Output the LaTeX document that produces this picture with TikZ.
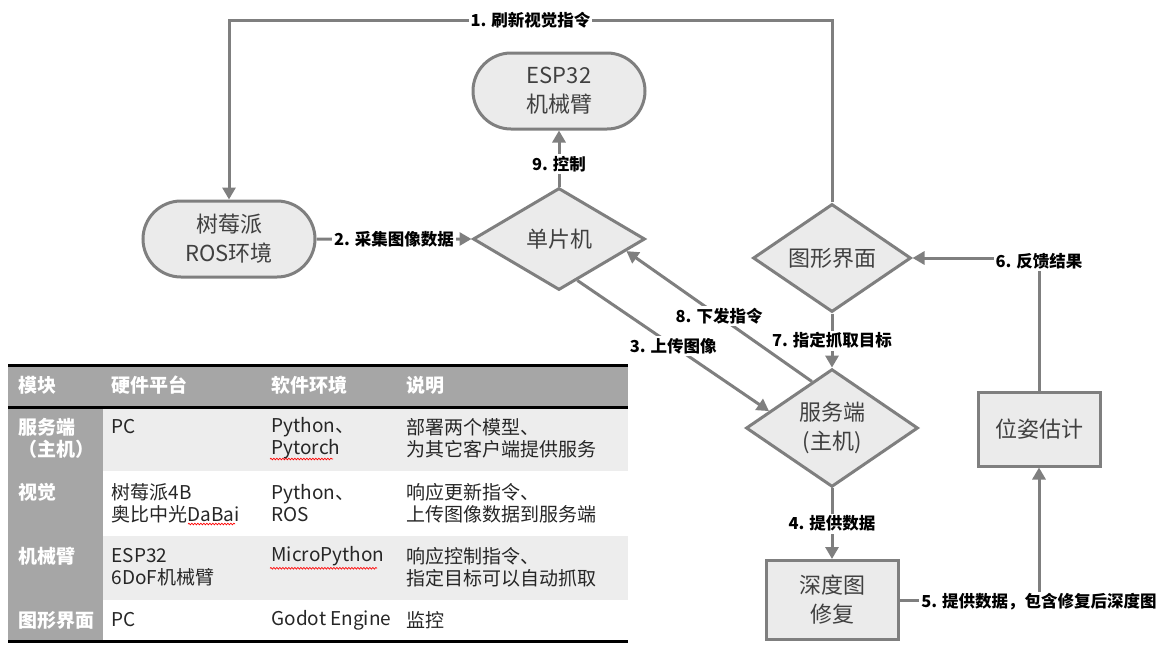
\documentclass[tikz,border=0pt]{standalone}
\usepackage{fontspec}
\setmainfont{Noto Sans CJK SC}
\usetikzlibrary{
  calc, % For points on the diamond edges
  arrows.meta, % For arrow tips
  shapes.geometric, % For the diamonds
  shapes.misc, % For the rounded rectangles
  decorations.pathmorphing % For the spell-check waves
}

\definecolor{linegray}{RGB}{127,127,127}
\definecolor{boxgray}{RGB}{235,235,235}
\definecolor{txtgray}{RGB}{64,64,64}
\definecolor{headgray}{RGB}{166,166,166}
\definecolor{rowgray}{RGB}{237,237,237}

\begin{document}
\begin{tikzpicture}[
      x=1pt, y=-1pt, % pixel grid
      line width=3pt, % Default line thickness
      >={Triangle[length=12pt,width=13pt]}, % Default arrow tip
      flow/.style={linegray, ->}, % Style for the data flow
      block/.style={draw=linegray, fill=boxgray, text=txtgray, inner sep=0pt,
        align=center, font=\fontsize{22}{29}\selectfont},
      pill/.style={block, rounded rectangle, minimum width=172pt, minimum height=76pt},
      decision/.style={block, diamond, minimum width=#1, minimum height=102pt},
      stage/.style={block, rectangle},
      tag/.style={fill=white, text=black, inner sep=2pt,
        font=\fontsize{16.5}{20}\selectfont\bfseries},
      cell/.style={anchor=west, align=left, inner sep=0pt, text=black!85,
        font=\fontsize{19}{22}\selectfont},
      headcell/.style={cell, text=white, font=\fontsize{19}{22}\selectfont\bfseries},
      spellwave/.style={red, line width=0.7pt,
        decorate, decoration={snake, segment length=3pt, amplitude=0.8pt}},
    ]
    \useasboundingbox (0,0) rectangle (1173,659);

    % Knoten
    \node[pill] (arm) at (559,91) {ESP32\\机械臂};
    \node[pill] (rpi) at (229,239) {树莓派\\ROS环境};
    \node[decision=172pt] (mcu) at (559,239) {单片机};
    \node[decision=158pt] (gui) at (832,258) {图形界面};
    \node[decision=172pt, minimum height=110pt] (srv) at (832,428) {服务端\\(主机)};
    \node[stage, minimum width=122pt, minimum height=74pt] (pose) at (1039,429) {位姿估计};
    \node[stage, minimum width=132pt, minimum height=79pt] (depth) at (832,600) {深度图\\修复};

    % Datenfluss
    \draw[flow] (gui.north) -- (gui.north |- 0,20)
      -- node[tag] {1. 刷新视觉指令} (rpi.north |- 0,20) -- (rpi.north);
    \draw[flow] (rpi) -- node[tag] {2. 采集图像数据} (mcu);
    \draw[flow] ($(mcu.south)!0.21!(mcu.east)$)
      -- node[tag] {3. 上传图像} ($(srv.west)!0.28!(srv.north)$);
    \draw[flow] (srv) -- node[tag] {4. 提供数据} (depth);
    \draw[flow] (depth.east) -- (depth.east -| pose.south)
      node[tag, yshift=-2pt] {5. 提供数据，包含修复后深度图} -- (pose.south);
    \draw[flow] (pose.north) -- (pose.north |- gui.east)
      node[tag, yshift=-3pt] {6. 反馈结果} -- (gui.east);
    \draw[flow] (gui) -- node[tag] {7. 指定抓取目标} (srv);
    \draw[flow] ($(srv.west)!0.77!(srv.north)$)
      -- node[tag] {8. 下发指令} ($(mcu.south)!0.77!(mcu.east)$);
    \draw[flow] (mcu) -- node[tag, pos=0.4] {9. 控制} (arm);

    % Tabelle
    \fill[headgray] (8,365) rectangle (628,407);
    \fill[headgray] (8,407) rectangle (103,641);
    \fill[rowgray] (103,407) rectangle (628,471);
    \fill[rowgray] (103,536) rectangle (628,600);
    \draw[black] (8,365) -- (628,365) (8,407) -- (628,407) (8,641) -- (628,641);

    \foreach \x/\txt [count=\i] in {17/模块, 110/硬件平台, 270/软件环境, 405/说明}
    \node[headcell] (head\i) at (\x,385) {\txt};

    \node[headcell] (srvname) at (17,438) {服务端\\（主机）};
    \node[cell] (srvhw) at (110,427) {PC};
    \node[cell] (srvsw) at (270,438) {Python、\\Pytorch};
    \node[cell] (srvnote) at (405,438) {部署两个模型、\\为其它客户端提供服务};

    \node[headcell] (visname) at (17,492) {视觉};
    \node[cell] (vishw) at (110,503) {树莓派4B\\奥比中光DaBai};
    \node[cell] (vissw) at (270,503) {Python、\\ROS};
    \node[cell] (visnote) at (405,503) {响应更新指令、\\上传图像数据到服务端};

    \node[headcell] (armname) at (17,556) {机械臂};
    \node[cell] (armhw) at (110,567) {ESP32\\6DoF机械臂};
    \node[cell] (armsw) at (270,556) {MicroPython};
    \node[cell] (armnote) at (405,567) {响应控制指令、\\指定目标可以自动抓取};

    \node[headcell] (guiname) at (17,620) {图形界面};
    \node[cell] (guihw) at (110,620) {PC};
    \node[cell] (guisw) at (270,620) {Godot Engine};
    \node[cell] (guinote) at (405,620) {监控};

    % Rechtschreib-Wellen
    \draw[spellwave] (srvsw.west |- 0,459) -- ++(63,0);
    \draw[spellwave] (188,524) -- ++(47,0);
    \draw[spellwave] (armsw.south west) ++(0,1) -- ++(107,0);
  \end{tikzpicture}
\end{document}
